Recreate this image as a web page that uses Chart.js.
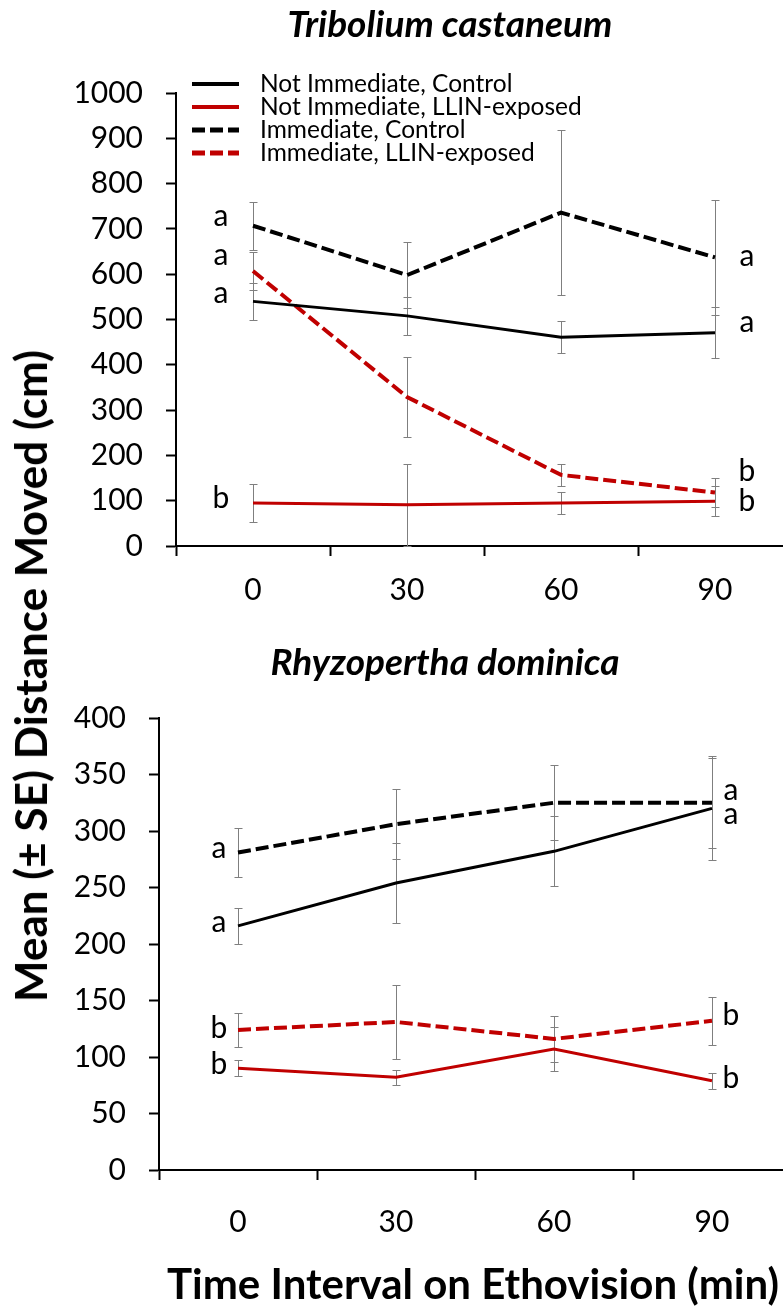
<!DOCTYPE html>
<html>
<head>
<meta charset="utf-8">
<script src="https://cdn.jsdelivr.net/npm/chart.js@4.4.1/dist/chart.umd.min.js"></script>
<style>
  html, body { margin: 0; padding: 0; background: #fff; width: 783px; height: 1312px; overflow: hidden; }
  body { position: relative; font-family: Lato, "Open Sans", sans-serif; color: #000; }
  .box { position: absolute; left: 0; width: 800px; }
  #boxTop { top: 0; height: 600px; }
  #boxBottom { top: 630px; height: 660px; }
  .title { position: absolute; transform: translate(-50%, -50%); white-space: nowrap;
           font-size: 37px; font-weight: bold; font-style: italic; }
  .axisTitle { position: absolute; white-space: nowrap; font-weight: bold; }
  #xTitle { left: 473px; top: 1283px; font-size: 42px; transform: translate(-50%, -50%); }
  #yTitle { left: 30px; top: 676px; font-size: 44px; transform: translate(-50%, -50%) rotate(-90deg); }
</style>
</head>
<body>
<div class="box" id="boxTop"><canvas id="topChart" width="800" height="600"></canvas></div>
<div class="box" id="boxBottom"><canvas id="bottomChart" width="800" height="660"></canvas></div>
<div class="title" style="left:450px; top:22px;">Tribolium castaneum</div>
<div class="title" style="left:445px; top:660px;">Rhyzopertha dominica</div>
<div class="axisTitle" id="yTitle">Mean (± SE) Distance Moved (cm)</div>
<div class="axisTitle" id="xTitle">Time Interval on Ethovision (min)</div>

<script>
// time points (min)
const timeLabels = ["0", "30", "60", "90"];
const seriesNames = [
  "Not Immediate, Control",
  "Not Immediate, LLIN-exposed",
  "Immediate, Control",
  "Immediate, LLIN-exposed"
];

// Tribolium castaneum — means and SE
const tcNotImmControl = [540, 508, 461, 471];
const tcNotImmControlSE = [40, 42, 35, 57];
const tcNotImmLLIN = [95, 91, 95, 99];
const tcNotImmLLINSE = [42, 90, 24, 33];
const tcImmControl = [707, 598, 736, 637];
const tcImmControlSE = [53, 72, 183, 126];
const tcImmLLIN = [607, 329, 157, 118];
const tcImmLLINSE = [42, 89, 24, 33];
// letters at 0 and 90 min
const tcLetters = [["a", "a"], ["b", "b"], ["a", "a"], ["a", "b"]];

// Rhyzopertha dominica — means and SE
const rdNotImmControl = [216, 254, 282, 320];
const rdNotImmControlSE = [16, 35, 31, 46];
const rdNotImmLLIN = [90, 82, 107, 79];
const rdNotImmLLINSE = [7, 6.5, 19.5, 7];
const rdImmControl = [281, 306, 325, 325];
const rdImmControlSE = [22, 31, 33, 40];
const rdImmLLIN = [124, 131, 116, 132];
const rdImmLLINSE = [15, 32.5, 20, 21];
const rdLetters = [["a", "a"], ["b", "b"], ["a", "a"], ["b", "b"]];

const black = "#000000";
const red = "#C00000";
const seGrey = "#7f7f7f";
const dash = [13, 5];
const tickFont = 30;

Chart.defaults.font.family = "Lato, 'Open Sans', sans-serif";
Chart.defaults.color = "#000";

function makeDatasets(means, ses, letters) {
  const look = [
    { borderColor: black, borderWidth: 3, borderDash: [] },
    { borderColor: red, borderWidth: 3, borderDash: [] },
    { borderColor: black, borderWidth: 4, borderDash: dash },
    { borderColor: red, borderWidth: 4, borderDash: dash }
  ];
  return means.map((m, i) => ({
    label: seriesNames[i],
    data: m,
    se: ses[i],
    letters: letters[i],
    fill: false,
    tension: 0,
    pointRadius: 0,
    pointHoverRadius: 0,
    ...look[i]
  }));
}

// grey SE whiskers with small caps
const errorBars = {
  id: "errorBars",
  beforeDatasetsDraw(chart) {
    const { ctx } = chart;
    const y = chart.scales.y;
    ctx.save();
    ctx.strokeStyle = seGrey;
    ctx.lineWidth = 1;
    chart.data.datasets.forEach((ds, i) => {
      const meta = chart.getDatasetMeta(i);
      ds.se.forEach((se, j) => {
        const px = Math.round(meta.data[j].x) + 0.5;
        const top = Math.round(y.getPixelForValue(ds.data[j] + se)) + 0.5;
        const bot = Math.round(y.getPixelForValue(Math.max(0, ds.data[j] - se))) + 0.5;
        ctx.beginPath();
        ctx.moveTo(px, top); ctx.lineTo(px, bot);
        ctx.moveTo(px - 4, top); ctx.lineTo(px + 4, top);
        ctx.moveTo(px - 4, bot); ctx.lineTo(px + 4, bot);
        ctx.stroke();
      });
    });
    ctx.restore();
  }
};

// significance letters beside first and last points
const sigLetters = {
  id: "sigLetters",
  afterDatasetsDraw(chart, args, opts) {
    const { ctx } = chart;
    ctx.save();
    ctx.font = "30px Lato, 'Open Sans', sans-serif";
    ctx.fillStyle = "#000";
    ctx.textAlign = "center";
    ctx.textBaseline = "middle";
    chart.data.datasets.forEach((ds, i) => {
      const pts = chart.getDatasetMeta(i).data;
      const first = pts[0], last = pts[pts.length - 1];
      ctx.fillText(ds.letters[0], first.x - opts.gap, first.y + opts.nudgeLeft[i] - 2);
      ctx.fillText(ds.letters[1], last.x + opts.gap, last.y + opts.nudgeRight[i] - 2);
    });
    ctx.restore();
  }
};

// vertical legend of line samples
const lineLegend = {
  id: "lineLegend",
  afterDraw(chart, args, opts) {
    if (!opts.show) return;
    const { ctx } = chart;
    ctx.save();
    ctx.font = "24.5px Lato, 'Open Sans', sans-serif";
    ctx.fillStyle = "#000";
    ctx.textBaseline = "middle";
    chart.data.datasets.forEach((ds, i) => {
      const cy = opts.y + i * opts.rowHeight;
      ctx.strokeStyle = ds.borderColor;
      ctx.lineWidth = ds.borderWidth + 1;
      ctx.setLineDash(ds.borderDash || []);
      ctx.beginPath();
      ctx.moveTo(opts.x, cy);
      ctx.lineTo(opts.x + 47, cy);
      ctx.stroke();
      ctx.fillText(ds.label, opts.x + 68, cy);
    });
    ctx.restore();
  }
};

function makeOptions(o) {
  return {
    responsive: false,
    animation: false,
    layout: { padding: { top: o.padTop, right: o.padRight, bottom: 0, left: 0 } },
    scales: {
      x: {
        type: "category",
        offset: true,
        afterFit: s => { s.height = o.xAxisHeight; },
        grid: { offset: true, drawOnChartArea: false, drawTicks: true, tickLength: 10, tickColor: black, tickWidth: 2 },
        border: { display: true, color: black, width: 2 },
        ticks: { font: { size: tickFont }, color: black, padding: o.xPad, maxRotation: 0 }
      },
      y: {
        min: 0,
        max: o.yMax,
        afterFit: s => { s.width = o.yAxisWidth; },
        grid: { drawOnChartArea: false, drawTicks: true, tickLength: 10, tickColor: black, tickWidth: 2 },
        border: { display: true, color: black, width: 2 },
        ticks: { stepSize: o.yStep, font: { size: tickFont }, color: black, padding: 23, callback: v => String(v) }
      }
    },
    plugins: {
      legend: { display: false },
      tooltip: { enabled: false },
      sigLetters: { gap: o.letterGap, nudgeLeft: o.nudgeLeft, nudgeRight: o.nudgeRight },
      lineLegend: o.legend
    }
  };
}

new Chart(document.getElementById("topChart"), {
  type: "line",
  data: {
    labels: timeLabels,
    datasets: makeDatasets(
      [tcNotImmControl, tcNotImmLLIN, tcImmControl, tcImmLLIN],
      [tcNotImmControlSE, tcNotImmLLINSE, tcImmControlSE, tcImmLLINSE],
      tcLetters)
  },
  options: makeOptions({
    padTop: 93, padRight: 8, xAxisHeight: 54, yAxisWidth: 176, xPad: 16,
    yMax: 1000, yStep: 100, letterGap: 32,
    nudgeLeft: [-6, -3, -7, -14], nudgeRight: [-8, 2, 1, -19],
    legend: { show: true, x: 192, y: 84, rowHeight: 23 }
  }),
  plugins: [errorBars, sigLetters, lineLegend]
});

new Chart(document.getElementById("bottomChart"), {
  type: "line",
  data: {
    labels: timeLabels,
    datasets: makeDatasets(
      [rdNotImmControl, rdNotImmLLIN, rdImmControl, rdImmLLIN],
      [rdNotImmControlSE, rdNotImmLLINSE, rdImmControlSE, rdImmLLINSE],
      rdLetters)
  },
  options: makeOptions({
    padTop: 88, padRight: 9, xAxisHeight: 120, yAxisWidth: 159, xPad: 24,
    yMax: 400, yStep: 50, letterGap: 19,
    nudgeLeft: [-2, -2, -2, 0], nudgeRight: [8, 0, -10, -4],
    legend: { show: false }
  }),
  plugins: [errorBars, sigLetters, lineLegend]
});
</script>
</body>
</html>
